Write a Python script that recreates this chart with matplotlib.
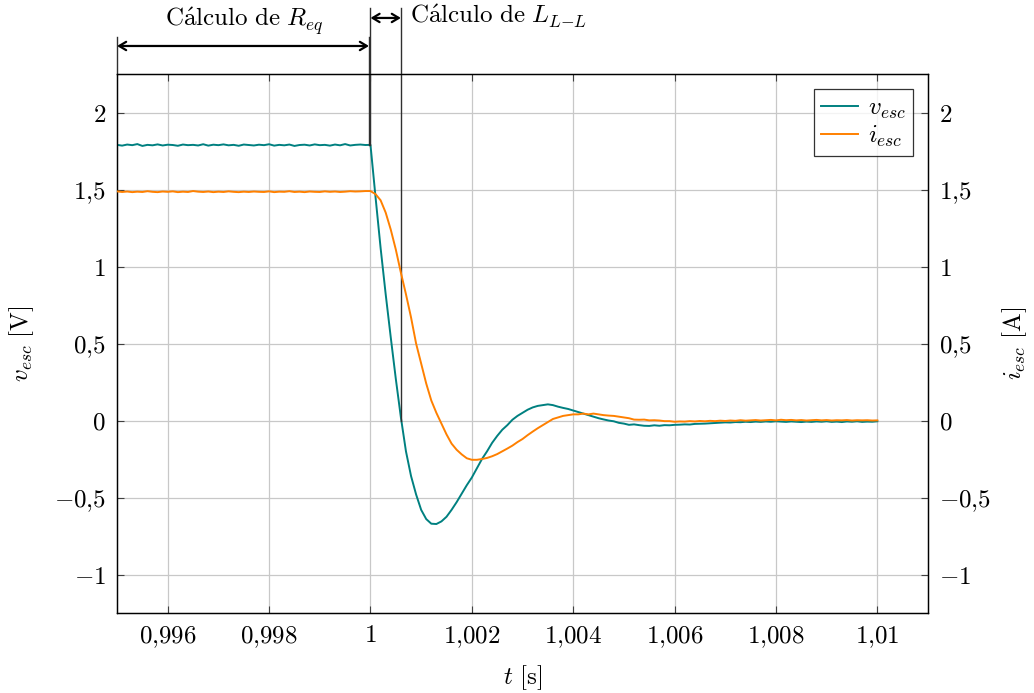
"""
Respuesta al escalón: tensión y corriente (cálculo de R_eq y L_L-L)
"""

import matplotlib.pyplot as plt
import numpy as np
from matplotlib.ticker import FuncFormatter, MultipleLocator

plt.rcParams["mathtext.fontset"] = "cm"
plt.rcParams["font.family"] = "serif"
plt.rcParams["font.serif"] = ["DejaVu Serif"]

# Time grid of the samples (0.995 s .. 1.01 s, one sample every 0.1 ms)
t = np.linspace(0.995, 1.01, 151)

# v_esc [V]
v_pre = [
    1.790, 1.785, 1.792, 1.788, 1.795, 1.783, 1.790, 1.787, 1.793, 1.786,
    1.791, 1.789, 1.784, 1.792, 1.788, 1.790, 1.786, 1.794, 1.785, 1.791,
    1.788, 1.793, 1.787, 1.790, 1.784, 1.792, 1.789, 1.786, 1.791, 1.788,
    1.794, 1.785, 1.790, 1.787, 1.792, 1.783, 1.789, 1.791, 1.786, 1.793,
    1.788, 1.790, 1.785, 1.792, 1.787, 1.795, 1.786, 1.790, 1.792, 1.789,
]
v_trans = [
    1.790, 1.450, 1.120, 0.820, 0.540, 0.270, 0.020, -0.200, -0.360, -0.480,
    -0.580, -0.640, -0.670, -0.672, -0.655, -0.625, -0.580, -0.530, -0.475, -0.420,
    -0.370, -0.310, -0.250, -0.200, -0.145, -0.100, -0.060, -0.030, 0.005, 0.030,
    0.050, 0.070, 0.085, 0.095, 0.100, 0.105, 0.100, 0.090, 0.082, 0.075,
    0.065, 0.055, 0.045, 0.035, 0.025, 0.015, 0.007, 0.000, -0.005, -0.015,
    -0.020, -0.028, -0.025, -0.030, -0.034, -0.035, -0.031, -0.034, -0.030, -0.031,
    -0.028,
]
v_tail = [
    -0.027, -0.025, -0.026, -0.022, -0.021, -0.020, -0.018, -0.016, -0.014, -0.012,
    -0.013, -0.010, -0.011, -0.008, -0.010, -0.007, -0.009, -0.006, -0.008, -0.005,
    -0.007, -0.009, -0.006, -0.008, -0.010, -0.007, -0.009, -0.006, -0.008, -0.005,
    -0.009, -0.007, -0.010, -0.006, -0.008, -0.005, -0.009, -0.007, -0.008, -0.005,
]
v_esc = np.array(v_pre + v_trans + v_tail)

# i_esc [A]
i_pre = [
    1.488, 1.484, 1.487, 1.483, 1.486, 1.484, 1.489, 1.485, 1.483, 1.487,
    1.485, 1.488, 1.483, 1.486, 1.484, 1.490, 1.486, 1.484, 1.487, 1.483,
    1.486, 1.484, 1.488, 1.485, 1.483, 1.486, 1.484, 1.487, 1.485, 1.484,
    1.488, 1.483, 1.486, 1.485, 1.489, 1.484, 1.486, 1.483, 1.487, 1.485,
    1.484, 1.488, 1.485, 1.487, 1.484, 1.486, 1.489, 1.487, 1.488, 1.490,
]
i_trans = [
    1.490, 1.470, 1.430, 1.350, 1.240, 1.110, 0.960, 0.820, 0.670, 0.500,
    0.370, 0.240, 0.130, 0.050, -0.020, -0.090, -0.150, -0.190, -0.220, -0.245,
    -0.255, -0.255, -0.250, -0.243, -0.232, -0.218, -0.200, -0.182, -0.163, -0.140,
    -0.120, -0.095, -0.072, -0.050, -0.030, -0.010, 0.010, 0.020, 0.030, 0.035,
    0.040, 0.040, 0.045, 0.040, 0.045, 0.040, 0.035, 0.032, 0.030, 0.025,
    0.020, 0.015, 0.006, 0.005, 0.006, 0.001, 0.002, 0.000, -0.004, -0.004,
    -0.008,
]
i_tail = [
    -0.006, -0.007, -0.004, -0.006, -0.003, -0.005, -0.002, -0.004, -0.001, -0.003,
    0.000, -0.002, 0.002, -0.001, 0.001, 0.003, 0.000, 0.002, 0.004, 0.001,
    0.005, 0.002, 0.004, 0.001, 0.003, 0.000, 0.002, 0.004, 0.001, 0.003,
    0.000, 0.002, 0.001, 0.003, 0.000, 0.002, 0.001, 0.002, 0.000, 0.001,
]
i_esc = np.array(i_pre + i_trans + i_tail)

x_ticks = [0.996, 0.998, 1.0, 1.002, 1.004, 1.006, 1.008, 1.01]
t_trigger = 1.0
t_cross = 1.0006

TEAL = "#008080"
ORANGE = "#ff8000"
FS = 18


def comma_fmt(val, pos):
    s = "%g" % round(val, 6)
    return "$" + s.replace(".", "{,}") + "$"


fig = plt.figure(figsize=(10.34, 6.93), dpi=100)
ax = fig.add_axes([0.1132, 0.1154, 0.7843, 0.7778])
ax2 = ax.twinx()

l1, = ax.plot(t, v_esc, color=TEAL, linewidth=1.4, label=r"$v_{esc}$", zorder=3)
l2, = ax2.plot(t, i_esc, color=ORANGE, linewidth=1.4, label=r"$i_{esc}$", zorder=3)

for a in (ax, ax2):
    a.set_xlim(0.995, 1.011)
    a.set_ylim(-1.25, 2.25)
    a.yaxis.set_major_locator(MultipleLocator(0.5))
    a.yaxis.set_major_formatter(FuncFormatter(comma_fmt))
    a.tick_params(direction="in", length=5, width=0.8, labelsize=FS, color="#404040")
    for sp in a.spines.values():
        sp.set_linewidth(0.9)

ax.set_xticks(x_ticks)
ax.xaxis.set_major_formatter(FuncFormatter(comma_fmt))
ax.tick_params(axis="x", top=True, pad=8)
ax.tick_params(axis="y", pad=8)
ax2.tick_params(axis="y", pad=8)
ax.grid(True, color="#c8c8c8", linewidth=0.9)
ax.set_axisbelow(True)

ax.set_xlabel(r"$t\ [\mathrm{s}]$", fontsize=FS, labelpad=10)
ax.set_ylabel(r"$v_{esc}\ [\mathrm{V}]$", fontsize=FS, va="center")
ax2.set_ylabel(r"$i_{esc}\ [\mathrm{A}]$", fontsize=FS, rotation=90, va="center")
ax.yaxis.set_label_coords(-0.118, 0.5)
ax2.yaxis.set_label_coords(1.107, 0.5)

leg = ax2.legend(handles=[l1, l2], loc="upper right", fontsize=FS,
                 frameon=True, fancybox=False, edgecolor="black",
                 handlelength=1.45, borderpad=0.3, labelspacing=0.1,
                 handletextpad=0.4, borderaxespad=0.6)
leg.get_frame().set_linewidth(0.9)

# Marker lines and annotation arrows above the axes
kw = dict(color="#303030", linewidth=1.0, clip_on=False, zorder=4)
ax.plot([0.995, 0.995], [2.25, 2.49], **kw)
ax.plot([t_trigger - 0.00003, t_trigger - 0.00003], [1.79, 2.49], **kw)
ax.plot([t_trigger, t_trigger], [1.79, 2.68], **kw)
ax.plot([t_cross, t_cross], [0.0, 2.68], **kw)

arrow = dict(arrowstyle="<->,head_length=0.5,head_width=0.3", color="black",
             linewidth=1.6, shrinkA=0, shrinkB=0)
ax.annotate("", xy=(0.995, 2.432), xytext=(t_trigger - 0.00003, 2.432),
            arrowprops=arrow, annotation_clip=False)
ax.annotate("", xy=(t_trigger, 2.614), xytext=(t_cross, 2.614),
            arrowprops=arrow, annotation_clip=False)
ax.text(0.9975, 2.59, r"$\mathrm{C\'alculo\ de}\ R_{eq}$", fontsize=FS,
        ha="center", va="center")
ax.text(1.00077, 2.625, r"$\mathrm{C\'alculo\ de}\ L_{L{-}L}$", fontsize=FS,
        ha="left", va="center")

plt.savefig("out.png", dpi=100)
